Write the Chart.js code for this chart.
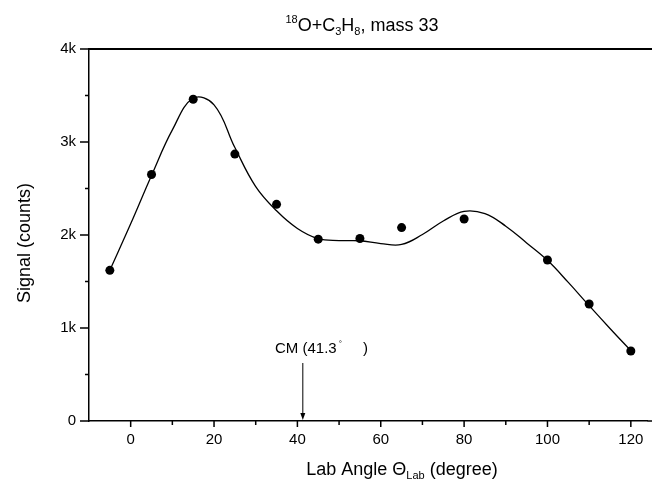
<!DOCTYPE html>
<html>
<head>
<meta charset="utf-8">
<script src="https://cdn.jsdelivr.net/npm/chart.js@4.4.1/dist/chart.umd.min.js"></script>
<style>
html,body{margin:0;padding:0;background:#fff;overflow:hidden;}
#wrap{width:652px;height:484px;position:relative;}
</style>
</head>
<body>
<div id="wrap"><canvas id="c" width="652" height="484"></canvas></div>
<script>
// Measured data points
const angles = [-5, 5, 15, 25, 35, 45, 55, 65, 80, 100, 110, 120];
const signal = [1620, 2650, 3460, 2870, 2330, 1955, 1962, 2080, 2172, 1731, 1258, 753];
// Fitted curve
const fitAngles = [-5, 0, 5, 10, 15, 20, 25, 30, 35, 40, 45, 50, 55, 60, 65, 70, 75, 80, 85, 90, 95, 100, 105, 110, 115, 120];
const fitSignal = [1620, 2120, 2640, 3130, 3470, 3400, 2940, 2520, 2260, 2070, 1960, 1940, 1938, 1908, 1898, 2005, 2150, 2255, 2230, 2095, 1915, 1728, 1490, 1240, 995, 756];
// Axis ticks
const xMajorTicks = [0, 20, 40, 60, 80, 100, 120];
const xMinorTicks = [-10, 10, 30, 50, 70, 90, 110];
const yMajorTicks = [0, 1000, 2000, 3000, 4000];
const yMinorTicks = [500, 1500, 2500, 3500];
const cmAngle = 41.3;

const FONT = '"Liberation Sans", Arial, sans-serif';

const decor = {
  id: 'decor',
  afterDraw(chart) {
    const ctx = chart.ctx;
    const xs = chart.scales.x, ys = chart.scales.y;
    const a = chart.chartArea;
    ctx.save();
    ctx.strokeStyle = '#000';
    ctx.fillStyle = '#000';
    // top frame line
    ctx.lineWidth = 2;
    ctx.beginPath();
    ctx.moveTo(a.left, a.top);
    ctx.lineTo(652, a.top);
    ctx.stroke();
    // ticks
    ctx.lineWidth = 1.5;
    ctx.beginPath();
    yMajorTicks.forEach(v => { const y = ys.getPixelForValue(v); ctx.moveTo(a.left - 9, y); ctx.lineTo(a.left, y); });
    yMinorTicks.forEach(v => { const y = ys.getPixelForValue(v); ctx.moveTo(a.left - 4, y); ctx.lineTo(a.left, y); });
    xMajorTicks.forEach(v => { const x = xs.getPixelForValue(v); ctx.moveTo(x, a.bottom); ctx.lineTo(x, a.bottom + 6); });
    xMinorTicks.forEach(v => { const x = xs.getPixelForValue(v); if (x > a.left + 1) { ctx.moveTo(x, a.bottom); ctx.lineTo(x, a.bottom + 4); } });
    ctx.moveTo(a.right, a.bottom);
    ctx.lineTo(652, a.bottom);
    ctx.stroke();

    // title with super/subscripts
    const parts = [
      ['18', 11, -8], ['O+C', 18, 0], ['3', 11, 4], ['H', 18, 0], ['8', 11, 4], [', mass 33', 18, 0]
    ];
    let total = 0;
    parts.forEach(p => { ctx.font = p[1] + 'px ' + FONT; total += ctx.measureText(p[0]).width; });
    let tx = 362 - total / 2;
    const tb = 31;
    ctx.textBaseline = 'alphabetic';
    ctx.textAlign = 'left';
    parts.forEach(p => { ctx.font = p[1] + 'px ' + FONT; ctx.fillText(p[0], tx, tb + p[2]); tx += ctx.measureText(p[0]).width; });

    // x axis title
    const xparts = [['Lab Angle \u0398', 18, 0], ['Lab', 11, 4], [' (degree)', 18, 0]];
    total = 0;
    xparts.forEach(p => { ctx.font = p[1] + 'px ' + FONT; total += ctx.measureText(p[0]).width; });
    tx = 402 - total / 2;
    xparts.forEach(p => { ctx.font = p[1] + 'px ' + FONT; ctx.fillText(p[0], tx, 475 + p[2]); tx += ctx.measureText(p[0]).width; });

    // y axis title
    ctx.save();
    ctx.translate(30, 243);
    ctx.rotate(-Math.PI / 2);
    ctx.font = '18px ' + FONT;
    ctx.textAlign = 'center';
    ctx.fillText('Signal (counts)', 0, 0);
    ctx.restore();

    // CM annotation
    const cx = xs.getPixelForValue(cmAngle);
    ctx.font = '15px ' + FONT;
    ctx.textAlign = 'left';
    const t1 = 'CM (41.3';
    ctx.fillText(t1, 275, 353);
    const w1 = ctx.measureText(t1).width;
    ctx.font = '8px ' + FONT;
    ctx.fillText('\u00b0', 275 + w1 + 2, 346);
    ctx.font = '15px ' + FONT;
    ctx.fillText(')', 363, 353);
    // arrow
    ctx.lineWidth = 1;
    ctx.beginPath();
    ctx.moveTo(cx, 363);
    ctx.lineTo(cx, a.bottom - 4);
    ctx.stroke();
    ctx.beginPath();
    ctx.moveTo(cx - 2.5, a.bottom - 8);
    ctx.lineTo(cx + 2.5, a.bottom - 8);
    ctx.lineTo(cx, a.bottom - 1);
    ctx.closePath();
    ctx.fill();
    ctx.restore();
  }
};

new Chart(document.getElementById('c'), {
  type: 'scatter',
  data: {
    datasets: [
      {
        data: fitAngles.map((x, i) => ({x, y: fitSignal[i]})),
        showLine: true,
        borderColor: '#000',
        borderWidth: 1.3,
        pointRadius: 0,
        tension: 0.4,
        fill: false
      },
      {
        data: angles.map((x, i) => ({x, y: signal[i]})),
        showLine: false,
        pointRadius: 4.5,
        pointBackgroundColor: '#000',
        pointBorderColor: '#000',
        pointBorderWidth: 0
      }
    ]
  },
  options: {
    responsive: false,
    animation: false,
    devicePixelRatio: 1,
    layout: { padding: { top: 49, right: 0, left: 0, bottom: 0 } },
    plugins: { legend: { display: false }, tooltip: { enabled: false }, title: { display: false } },
    scales: {
      x: {
        type: 'linear',
        min: -10,
        max: 124,
        afterFit: s => { s.height = 63; s.paddingRight = 0; s.paddingLeft = 0; },
        afterBuildTicks: s => { s.ticks = xMajorTicks.map(v => ({value: v})); },
        grid: { display: false, drawTicks: false },
        border: { display: true, color: '#000', width: 1.5 },
        ticks: { color: '#000', font: { family: FONT, size: 15 }, padding: 10, maxRotation: 0, autoSkip: false }
      },
      y: {
        type: 'linear',
        min: 0,
        max: 4000,
        afterFit: s => { s.width = 89; s.paddingTop = 0; s.paddingBottom = 0; },
        afterBuildTicks: s => { s.ticks = yMajorTicks.map(v => ({value: v})); },
        grid: { display: false, drawTicks: false },
        border: { display: true, color: '#000', width: 1.5 },
        ticks: { color: '#000', font: { family: FONT, size: 15 }, padding: 13,
          callback: v => v === 0 ? '0' : (v / 1000) + 'k' }
      }
    }
  },
  plugins: [decor]
});
</script>
</body>
</html>
